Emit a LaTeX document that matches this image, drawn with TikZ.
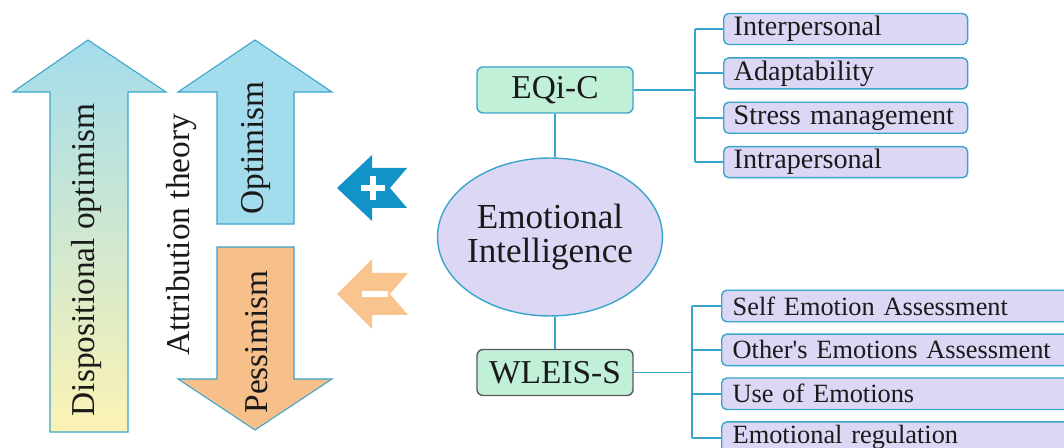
\documentclass[tikz,border=0pt]{standalone}
\usepackage{fontspec}
\setmainfont{Liberation Serif}
\usetikzlibrary{positioning,shapes.geometric}
\definecolor{edgeblue}{HTML}{3AA5CC}
\definecolor{lavfill}{HTML}{DCD7F5}
\definecolor{mintfill}{HTML}{C0F0D8}
\definecolor{skyfill}{HTML}{A3DCEC}
\definecolor{greenfill}{HTML}{D5F2D3}
\definecolor{yellowfill}{HTML}{FCF3B4}
\definecolor{orangefill}{HTML}{F7BF8A}
\definecolor{plusblue}{HTML}{1193C7}
\definecolor{minusorange}{HTML}{F9C48E}
\definecolor{inkgray}{HTML}{1A1A1A}
\begin{document}
\begin{tikzpicture}[x=0.02cm, y=-0.02cm, node distance=0.24cm, text=inkgray,
                    link/.style={draw=edgeblue, line width=1.1pt},
                    bigarrow/.style={draw=edgeblue, line width=0.6pt},
                    vlabel/.style={rotate=90, font=\fontsize{19}{22}\selectfont},
                    scalebox/.style={draw=edgeblue, fill=mintfill, rounded corners=0.12cm, line width=0.8pt,
                                     minimum width=3.12cm, minimum height=0.92cm, font=\fontsize{19}{22}\selectfont},
                    facet/.style={draw=edgeblue, fill=lavfill, rounded corners=0.1cm, line width=0.8pt,
                                  minimum height=0.62cm, inner xsep=0.2cm, inner ysep=0pt, align=left,
                                  text width=4.48cm, font=\fontsize{16}{18}\selectfont},
                    wfacet/.style={facet, inner xsep=0.22cm, text width=6.8cm, minimum height=0.63cm,
                                   font=\fontsize{15}{17}\selectfont}]
\useasboundingbox (0,0) rectangle (1064,448);
\clip (0,0) rectangle (1064,448);

\fill[white] (0,0) rectangle (1064,448);

\draw[bigarrow, top color=skyfill, middle color=greenfill, bottom color=yellowfill]
  (88,40) -- (166,92) -- (128,92) -- (128,432) -- (50,432) -- (50,92) -- (13,92) -- cycle;
\draw[bigarrow, fill=skyfill]
  (255,40) -- (332,92) -- (294,92) -- (294,224) -- (217,224) -- (217,92) -- (178,92) -- cycle;
\draw[bigarrow, fill=orangefill]
  (217,247) -- (294,247) -- (294,379) -- (332,379) -- (255,430) -- (178,379) -- (217,379) -- cycle;

\node[vlabel] (disp) at (86,260) {Dispositional optimism};
\node[vlabel] (attr) at (182,235) {Attribution theory};
\node[vlabel] (opt) at (256,148) {Optimism};
\node[vlabel] (pess) at (257,342) {Pessimism};

\fill[plusblue] (337,188) -- (372,155) -- (372,168) -- (407,168) -- (390,188) -- (407,208)
  -- (372,208) -- (372,221) -- cycle;
\draw[white, line width=0.12cm] (361,188) -- (385,188) (373,176) -- (373,200);
\fill[minusorange] (337,294) -- (372,259) -- (372,273) -- (408,273) -- (390,294) -- (408,315)
  -- (372,315) -- (372,329) -- cycle;
\draw[white, line width=0.12cm] (362,294) -- (388,294);

\node[ellipse, draw=edgeblue, fill=lavfill, line width=0.8pt, minimum width=4.5cm, minimum height=3.16cm,
      align=center, inner xsep=-0.1cm, inner ysep=0pt, font=\fontsize{20}{19}\selectfont] (core) at (550,237)
      {Emotional\\Intelligence};
\node[scalebox] (eqi) at (555,90) {EQi-C};
\node[scalebox, draw=black!65] (wleis) at (555,372.5) {WLEIS-S};

\node[facet, anchor=west] (inter) at (723,29) {Interpersonal};
\node[facet] (adapt) [below=of inter] {Adaptability};
\node[facet] (stress) [below=of adapt] {Stress management};
\node[facet] (intra) [below=of stress] {Intrapersonal};

\begin{scope}[node distance=0.22cm]
\node[wfacet, anchor=west] (selfem) at (721,306) {Self Emotion Assessment};
\node[wfacet] (otherem) [below=of selfem] {Other\textquotesingle s Emotions Assessment};
\node[wfacet] (useem) [below=of otherem] {Use of Emotions};
\node[wfacet] (regem) [below=of useem] {Emotional regulation};
\end{scope}

\coordinate (topbus) at (695,90);
\coordinate (lowbus) at (692,372.5);

\draw[link] (eqi.south) -- (eqi.south |- core.north);
\draw[link] (wleis.north) -- (wleis.north |- core.south);
\draw[link] (eqi) -- (topbus);
\draw[link] (wleis) -- (lowbus);
\draw[link] (topbus |- inter.west) -- (topbus |- intra.west);
\draw[link] (lowbus |- selfem.west) -- (lowbus |- regem.west);
\foreach \n in {inter,adapt,stress,intra}
  \draw[link] (topbus |- \n.west) -- (\n.west);
\foreach \n in {selfem,otherem,useem,regem}
  \draw[link] (lowbus |- \n.west) -- (\n.west);
\end{tikzpicture}
\end{document}
